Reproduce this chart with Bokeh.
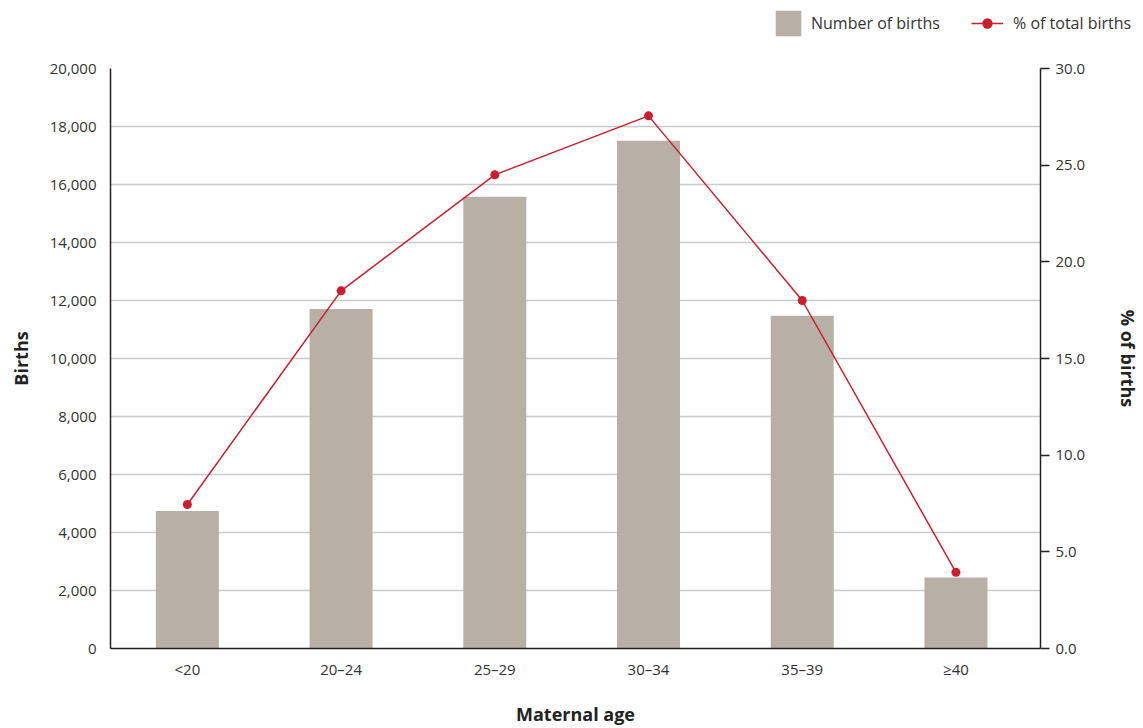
from bokeh.plotting import figure
from bokeh.layouts import column, row
from bokeh.models import (Range1d, LinearAxis, FixedTicker, NumeralTickFormatter,
                          Legend, LegendItem, ColumnDataSource, Spacer)
from bokeh.embed import file_html
from bokeh.resources import INLINE

# Births by maternal age group
age_groups = ["<20", "20–24", "25–29", "30–34", "35–39", "≥40"]
births = [4740, 11710, 15580, 17510, 11470, 2450]
pct_of_total = [7.45, 18.5, 24.5, 27.55, 18.0, 3.94]

left_ticks = [0, 2000, 4000, 6000, 8000, 10000, 12000, 14000, 16000, 18000, 20000]
right_ticks = [0, 5, 10, 15, 20, 25, 30]

FONT = "Open Sans"
TEXT = "#333333"
BAR = "#B8B0A6"
RED = "#C8202D"
GRID = "#CBCBCB"
AXIS = "#222222"

W = 1143
KEY_H = 50
KEY_X = 760

xpos = [i + 0.5 for i in range(len(age_groups))]
src = ColumnDataSource(dict(x=xpos, births=births, pct=pct_of_total, group=age_groups))

p = figure(width=W, height=728 - KEY_H, output_backend="svg", toolbar_location=None,
           x_range=Range1d(0, 6.05), y_range=Range1d(0, 20000),
           min_border_left=110, min_border_right=102, min_border_top=68 - KEY_H,
           min_border_bottom=80)
p.extra_y_ranges = {"pct": Range1d(0, 30)}
p.outline_line_color = None
p.background_fill_color = "white"
p.border_fill_color = "white"

bar_style = dict(width=0.41, fill_color=BAR, line_color=None)
line_style = dict(line_color=RED, line_width=1.5)
dot_style = dict(size=9, fill_color=RED, line_color=None)

p.vbar(x="x", top="births", source=src, **bar_style)
p.line(x="x", y="pct", source=src, y_range_name="pct", **line_style)
p.scatter(x="x", y="pct", source=src, y_range_name="pct", **dot_style)

# Bottom axis: age groups
xa = p.xaxis[0]
xa.ticker = FixedTicker(ticks=xpos)
xa.major_label_overrides = {x: g for x, g in zip(xpos, age_groups)}
xa.axis_label = "Maternal age"

# Left axis: birth counts
ya = p.yaxis[0]
ya.ticker = FixedTicker(ticks=left_ticks)
ya.formatter = NumeralTickFormatter(format="0,0")
ya.axis_label = "Births"

# Right axis: share of total births
ra = LinearAxis(y_range_name="pct", axis_label="% of births",
                ticker=FixedTicker(ticks=right_ticks),
                formatter=NumeralTickFormatter(format="0.0"))
p.add_layout(ra, "right")

for ax in (xa, ya, ra):
    ax.axis_line_color = AXIS
    ax.axis_line_width = 1.5
    ax.minor_tick_line_color = None
    ax.minor_tick_in = 0
    ax.minor_tick_out = 0
    ax.major_label_text_font = FONT
    ax.major_label_text_font_size = "15px"
    ax.major_label_text_color = TEXT
    ax.axis_label_text_font = FONT
    ax.axis_label_text_font_style = "bold"
    ax.axis_label_text_font_size = "18px"
    ax.axis_label_text_color = "#222222"

for ax in (xa, ya):
    ax.major_tick_line_color = None
    ax.major_tick_in = 0
    ax.major_tick_out = 0
xa.major_label_standoff = 10
xa.axis_label_standoff = 20
ya.major_label_standoff = 14
ya.axis_label_standoff = 14
ra.major_tick_line_color = AXIS
ra.major_tick_line_width = 1.5
ra.major_tick_in = 0
ra.major_tick_out = 9
ra.major_label_standoff = 6
ra.axis_label_standoff = 28

p.xgrid.grid_line_color = None
p.ygrid.ticker = FixedTicker(ticks=left_ticks)
p.ygrid.grid_line_color = GRID
p.ygrid.grid_line_width = 1.5

# Key strip above the chart: the same series drawn with the same styles, but the
# strip's ranges keep them out of view so only the legend entries show.
key = figure(width=W - KEY_X, height=KEY_H, output_backend="svg", toolbar_location=None,
             x_range=Range1d(-2, -1), y_range=Range1d(0, 1),
             x_axis_location=None, y_axis_location=None,
             min_border=0, outline_line_color=None)
key.grid.visible = False
key_bar = key.vbar(x="x", top="births", source=src, **bar_style)
key_line = key.line(x="x", y="pct", source=src, **line_style)
key_dot = key.scatter(x="x", y="pct", source=src, **dot_style)

# (left edge, glyph box width, glyph box height, label gap, bottom offset)
for items, x0, gw, gh, gap, vy in (
        ([LegendItem(label="Number of births", renderers=[key_bar])], 772, 32, 32, 7, 11),
        ([LegendItem(label="% of total births", renderers=[key_line, key_dot])], 971, 32, 26, 10, 14)):
    lg = Legend(items=items, location=(x0 - KEY_X, vy), orientation="horizontal",
                glyph_width=gw, glyph_height=gh, label_standoff=gap,
                padding=0, margin=0, spacing=0,
                border_line_color=None, background_fill_alpha=0,
                label_text_font=FONT, label_text_font_size="16px",
                label_text_color=TEXT)
    key.add_layout(lg, "center")

layout = column(row(Spacer(width=KEY_X, height=KEY_H), key, spacing=0), p, spacing=0)
open("out.html", "w").write(file_html(layout, INLINE))
